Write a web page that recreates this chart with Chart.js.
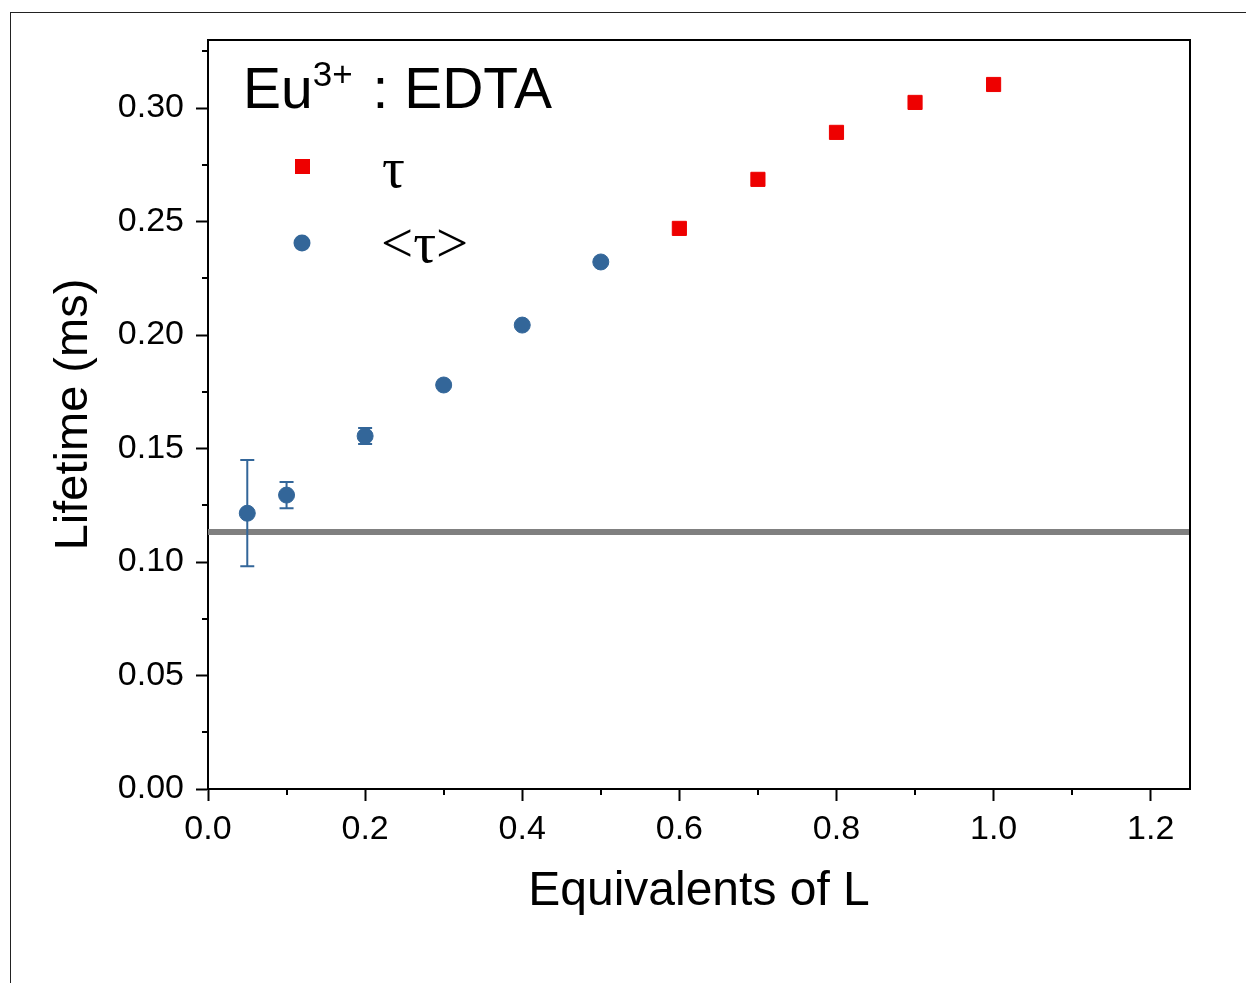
<!DOCTYPE html>
<html lang="en">

<head>
    <meta charset="UTF-8">
    <title>Eu3+ : EDTA lifetime</title>
    <script src="https://cdn.jsdelivr.net/npm/chart.js"></script>
    <style>
        body {
            margin: 0;
            padding: 0;
            background: white;
            font-family: 'Liberation Sans', Arial, sans-serif;
        }

        .frame {
            position: absolute;
            left: 10px;
            top: 12px;
            width: 1300px;
            height: 1100px;
            border-left: 1.5px solid #222;
            border-top: 1.5px solid #222;
        }

        #lifetimeChart {
            position: absolute;
            left: 0;
            top: 0;
        }
    </style>
</head>

<body>
    <div class="frame"></div>
    <canvas id="lifetimeChart" width="1246" height="983"></canvas>
    <script>
        // data
        const avgEquiv = [0.05, 0.1, 0.2, 0.3, 0.4, 0.5];
        const avgLifetime = [0.1215, 0.1295, 0.1555, 0.178, 0.2044, 0.2322];
        const avgError = [0.0234, 0.0058, 0.0035, 0, 0, 0];

        const tauEquiv = [0.6, 0.7, 0.8, 0.9, 1.0];
        const tauLifetime = [0.2470, 0.2686, 0.2893, 0.3025, 0.3104];

        const refLifetime = 0.1132; // grey horizontal line

        const xMin = 0, xMax = 1.25, xStep = 0.2;
        const yMin = 0, yMax = 0.33, yStep = 0.05;

        const blue = '#336699';
        const red = '#ee0000';
        const sans = "'Liberation Sans', Arial, sans-serif";
        const serif = "'Liberation Serif', 'Times New Roman', serif";

        const toPoints = (xs, ys) => xs.map((x, i) => ({ x: x, y: ys[i] }));

        // minor ticks halfway between major ones + box on top/right
        const frameAndMinor = {
            id: 'frameAndMinor',
            afterDraw(chart) {
                const ctx = chart.ctx;
                const a = chart.chartArea;
                const xs = chart.scales.x, ys = chart.scales.y;
                ctx.save();
                ctx.strokeStyle = '#000';
                ctx.lineWidth = 2;
                ctx.beginPath();
                ctx.moveTo(a.left, a.top);
                ctx.lineTo(a.right, a.top);
                ctx.lineTo(a.right, a.bottom);
                ctx.stroke();
                ctx.beginPath();
                for (let v = xMin + xStep / 2; v < xMax; v += xStep) {
                    const px = Math.round(xs.getPixelForValue(v));
                    ctx.moveTo(px, a.bottom);
                    ctx.lineTo(px, a.bottom + 6);
                }
                for (let v = yMin + yStep / 2; v < yMax; v += yStep) {
                    const py = Math.round(ys.getPixelForValue(v));
                    ctx.moveTo(a.left, py);
                    ctx.lineTo(a.left - 6, py);
                }
                ctx.stroke();
                ctx.restore();
            }
        };

        // error bars, drawn just after the grey line so markers sit on top
        const errorBars = {
            id: 'errorBars',
            afterDatasetDraw(chart, args) {
                if (args.index !== 0) return;
                const ctx = chart.ctx;
                const xs = chart.scales.x, ys = chart.scales.y;
                ctx.save();
                ctx.strokeStyle = blue;
                ctx.lineWidth = 2;
                avgEquiv.forEach((x, i) => {
                    const e = avgError[i];
                    if (!e) return;
                    const px = xs.getPixelForValue(x);
                    const top = ys.getPixelForValue(avgLifetime[i] + e);
                    const bot = ys.getPixelForValue(avgLifetime[i] - e);
                    ctx.beginPath();
                    ctx.moveTo(px, top);
                    ctx.lineTo(px, bot);
                    ctx.moveTo(px - 7, top);
                    ctx.lineTo(px + 7, top);
                    ctx.moveTo(px - 7, bot);
                    ctx.lineTo(px + 7, bot);
                    ctx.stroke();
                });
                ctx.restore();
            }
        };

        // title and legend inside the plot
        const labels = {
            id: 'labels',
            afterDraw(chart) {
                const ctx = chart.ctx;
                ctx.save();
                ctx.fillStyle = '#000';
                ctx.textBaseline = 'alphabetic';
                ctx.textAlign = 'left';
                let x = 243;
                const base = 108;
                ctx.font = '57px ' + sans;
                ctx.fillText('Eu', x, base);
                x += ctx.measureText('Eu').width;
                ctx.font = '35px ' + sans;
                ctx.fillText('3+', x, base - 22);
                x += ctx.measureText('3+').width + 4;
                ctx.font = '57px ' + sans;
                ctx.fillText(' : EDTA', x, base);

                // legend
                ctx.fillStyle = red;
                ctx.fillRect(295, 159, 15, 15);
                ctx.fillStyle = blue;
                ctx.beginPath();
                ctx.arc(302, 243, 8.5, 0, Math.PI * 2);
                ctx.fill();
                ctx.fillStyle = '#000';
                ctx.font = '57px ' + serif;
                ctx.fillText('τ', 382, 187);
                ctx.fillText('<τ>', 381, 262);
                ctx.restore();
            }
        };

        new Chart(document.getElementById('lifetimeChart'), {
            type: 'scatter',
            data: {
                datasets: [{
                    type: 'line',
                    data: [{ x: xMin, y: refLifetime }, { x: xMax, y: refLifetime }],
                    borderColor: '#808080',
                    borderWidth: 6,
                    pointRadius: 0,
                    order: 3
                }, {
                    data: toPoints(avgEquiv, avgLifetime),
                    backgroundColor: blue,
                    borderColor: blue,
                    borderWidth: 1,
                    pointRadius: 8,
                    order: 1
                }, {
                    data: toPoints(tauEquiv, tauLifetime),
                    pointStyle: 'rect',
                    backgroundColor: red,
                    borderColor: red,
                    borderWidth: 1,
                    pointRadius: 10,
                    order: 1
                }]
            },
            options: {
                responsive: false,
                animation: false,
                layout: { padding: { top: 40, right: 56, left: 0, bottom: 0 } },
                plugins: {
                    legend: { display: false },
                    tooltip: { enabled: false }
                },
                scales: {
                    x: {
                        type: 'linear',
                        min: xMin,
                        max: xMax,
                        afterFit(scale) { scale.height = 194; },
                        border: { color: '#000', width: 2 },
                        grid: { drawOnChartArea: false, tickLength: 12, color: '#000', tickWidth: 2 },
                        ticks: {
                            stepSize: xStep,
                            includeBounds: false,
                            padding: 8,
                            color: '#000',
                            font: { family: sans, size: 34 },
                            callback: v => v.toFixed(1)
                        },
                        title: {
                            display: true,
                            text: 'Equivalents of L',
                            color: '#000',
                            font: { family: sans, size: 48 },
                            padding: { bottom: 62 }
                        }
                    },
                    y: {
                        min: yMin,
                        max: yMax,
                        afterFit(scale) { scale.width = 208; },
                        border: { color: '#000', width: 2 },
                        grid: { drawOnChartArea: false, tickLength: 12, color: '#000', tickWidth: 2 },
                        ticks: {
                            stepSize: yStep,
                            includeBounds: false,
                            padding: 12,
                            color: '#000',
                            font: { family: sans, size: 34 },
                            callback: v => v.toFixed(2)
                        },
                        title: {
                            display: true,
                            text: 'Lifetime (ms)',
                            color: '#000',
                            font: { family: sans, size: 47 },
                            padding: { top: 46 }
                        }
                    }
                }
            },
            plugins: [errorBars, frameAndMinor, labels]
        });
    </script>
</body>

</html>
